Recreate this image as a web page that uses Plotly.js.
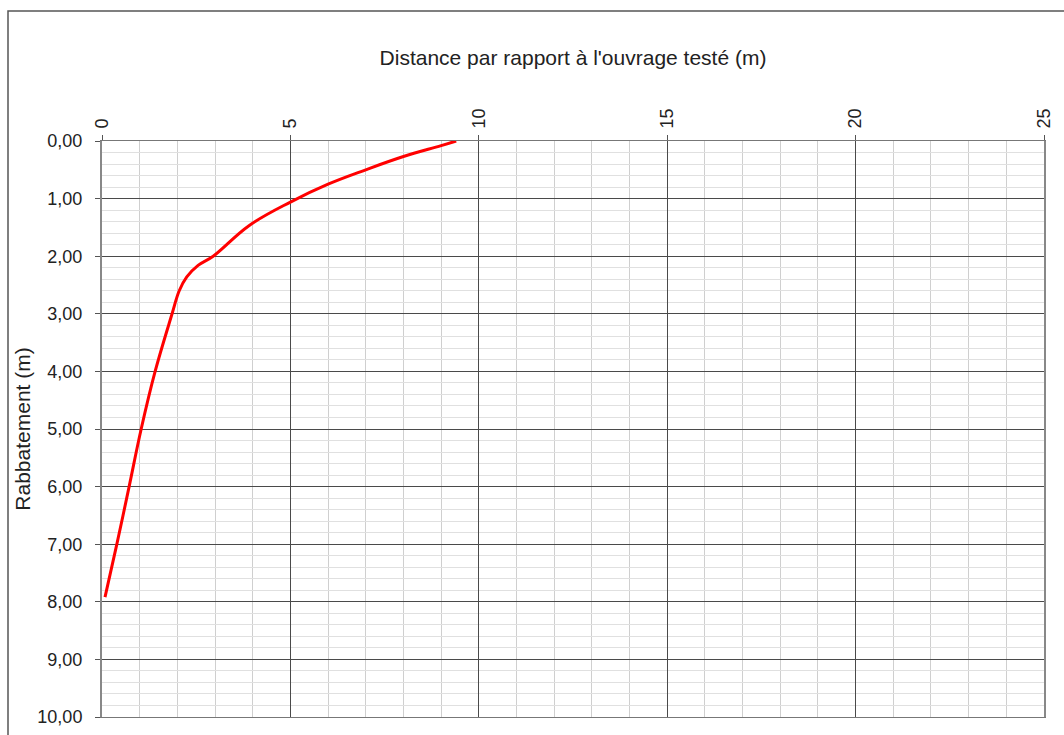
<!DOCTYPE html>
<html>
<head>
<meta charset="utf-8">
<script src="https://cdn.plot.ly/plotly-3.0.1.min.js"></script>
<style>
html,body{margin:0;padding:0;background:#fff;}
#chart{width:1064px;height:735px;}
</style>
</head>
<body>
<div id="chart"></div>
<script>
// Distance from the tested well (m)
const distance = [0.08, 0.40, 0.72, 1.04, 1.41, 1.86, 2.05, 2.25, 2.55, 2.95, 3.90, 5.00, 6.00, 7.00, 8.00, 9.00, 9.40];
// Drawdown (m)
const drawdown = [7.92, 6.98, 6.00, 5.00, 4.00, 3.00, 2.60, 2.36, 2.16, 2.00, 1.47, 1.06, 0.75, 0.50, 0.27, 0.08, 0.00];

const xTitle = "Distance par rapport à l'ouvrage testé (m)";
const yTitle = "Rabbatement (m)";

const font = "Liberation Sans, Arial, sans-serif";

const trace = {
  x: distance,
  y: drawdown,
  type: 'scatter',
  mode: 'lines',
  line: {color: '#ff0000', width: 3, shape: 'spline', smoothing: 1.1},
  hoverinfo: 'skip'
};

const layout = {
  width: 1064,
  height: 735,
  margin: {l: 102, r: 20, t: 141, b: 18},
  paper_bgcolor: '#ffffff',
  plot_bgcolor: '#ffffff',
  showlegend: false,
  separators: ',.',
  font: {family: font, size: 18, color: '#222'},
  xaxis: {
    side: 'top',
    range: [0, 25],
    tickmode: 'linear',
    tick0: 0,
    dtick: 5,
    tickangle: -90,
    ticks: 'outside',
    ticklen: 5,
    tickcolor: '#555',
    ticklabelstandoff: 3,
    tickfont: {family: font, size: 18, color: '#222'},
    showgrid: true,
    gridcolor: '#4a4a4a',
    gridwidth: 1,
    minor: {dtick: 1, showgrid: true, gridcolor: '#cfcfcf', gridwidth: 1, ticks: ''},
    showline: true,
    linecolor: '#777',
    linewidth: 1,
    mirror: true,
    zeroline: false,
    title: {text: xTitle, font: {family: font, size: 21, color: '#222'}, standoff: 37}
  },
  yaxis: {
    range: [10, 0],
    tickmode: 'linear',
    tick0: 0,
    dtick: 1,
    tickformat: '.2f',
    ticks: 'outside',
    ticklen: 5,
    tickcolor: '#555',
    ticklabelstandoff: 9,
    tickfont: {family: font, size: 18, color: '#222'},
    showgrid: true,
    gridcolor: '#4a4a4a',
    gridwidth: 1,
    minor: {dtick: 0.2, showgrid: true, gridcolor: '#e0e0e0', gridwidth: 1, ticks: ''},
    showline: true,
    linecolor: '#888',
    linewidth: 2,
    mirror: true,
    zeroline: false,
    title: {text: yTitle, font: {family: font, size: 21, color: '#222'}, standoff: 1}
  },
  shapes: [{
    type: 'rect', xref: 'paper', yref: 'paper',
    x0: (8 - 102) / 942, x1: 1.2,
    y0: -0.2, y1: (717 - 11) / 576,
    line: {color: '#555', width: 1.5},
    fillcolor: 'rgba(0,0,0,0)',
    layer: 'below'
  }]
};

Plotly.newPlot('chart', [trace], layout, {displayModeBar: false, staticPlot: true});
</script>
</body>
</html>
